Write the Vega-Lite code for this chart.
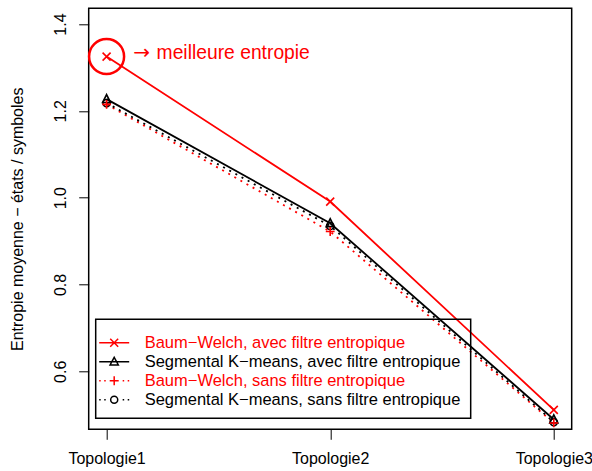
{
  "$schema": "https://vega.github.io/schema/vega-lite/v6.json",
  "width": 483,
  "height": 421,
  "autosize": {"type": "none"},
  "padding": {"left": 88.7, "top": 8.3, "right": 20.5, "bottom": 41.7},
  "config": {
    "view": {"stroke": "black", "strokeWidth": 1.5},
    "font": "Liberation Sans"
  },
  "datasets": {
    "series": [
      {"series": "Baum−Welch, avec filtre entropique", "topologie": "Topologie1", "entropie": 1.325},
      {"series": "Baum−Welch, avec filtre entropique", "topologie": "Topologie2", "entropie": 0.991},
      {"series": "Baum−Welch, avec filtre entropique", "topologie": "Topologie3", "entropie": 0.511},
      {"series": "Segmental K−means, avec filtre entropique", "topologie": "Topologie1", "entropie": 1.227},
      {"series": "Segmental K−means, avec filtre entropique", "topologie": "Topologie2", "entropie": 0.941},
      {"series": "Segmental K−means, avec filtre entropique", "topologie": "Topologie3", "entropie": 0.489},
      {"series": "Baum−Welch, sans filtre entropique", "topologie": "Topologie1", "entropie": 1.215},
      {"series": "Baum−Welch, sans filtre entropique", "topologie": "Topologie2", "entropie": 0.922},
      {"series": "Baum−Welch, sans filtre entropique", "topologie": "Topologie3", "entropie": 0.481},
      {"series": "Segmental K−means, sans filtre entropique", "topologie": "Topologie1", "entropie": 1.218},
      {"series": "Segmental K−means, sans filtre entropique", "topologie": "Topologie2", "entropie": 0.935},
      {"series": "Segmental K−means, sans filtre entropique", "topologie": "Topologie3", "entropie": 0.483}
    ],
    "annot": [
      {"topologie": "Topologie1", "entropie": 1.325, "arrow": "→", "label": "meilleure entropie"}
    ]
  },
  "encoding": {
    "x": {
      "field": "topologie", "type": "nominal",
      "scale": {"type": "point", "padding": 0.08},
      "axis": {
        "title": null, "labelAngle": 0, "domain": false, "grid": false,
        "tickSize": 10, "tickColor": "black", "tickWidth": 1,
        "labelFont": "Liberation Sans", "labelFontSize": 16, "labelColor": "black",
        "labelPadding": 11, "labelBaseline": "top"
      }
    },
    "y": {
      "field": "entropie", "type": "quantitative",
      "scale": {"domain": [0.4664, 1.4362], "nice": false, "zero": false},
      "axis": {
        "title": "Entropie moyenne − états / symboles",
        "values": [0.6, 0.8, 1.0, 1.2, 1.4], "format": ".1f",
        "domain": false, "grid": false,
        "tickSize": 10, "tickColor": "black", "tickWidth": 1,
        "labelAngle": -90, "labelAlign": "center", "labelBaseline": "bottom",
        "labelFont": "Liberation Sans", "labelFontSize": 16, "labelColor": "black",
        "labelPadding": 10,
        "titleFont": "Liberation Sans", "titleFontSize": 16, "titleFontWeight": "normal",
        "titleColor": "black", "titlePadding": 27
      }
    }
  },
  "layer": [
    {
      "data": {"name": "series"},
      "transform": [{"filter": "indexof(datum.series, 'avec') >= 0"}],
      "mark": {"type": "line", "strokeWidth": 1.8},
      "encoding": {
        "color": {
          "field": "series", "type": "nominal",
          "scale": {
            "domain": ["Baum−Welch, avec filtre entropique", "Segmental K−means, avec filtre entropique", "Baum−Welch, sans filtre entropique", "Segmental K−means, sans filtre entropique"],
            "range": ["#ff0000", "#000000", "#ff0000", "#000000"]
          },
          "legend": {
            "orient": "none", "legendX": 7, "legendY": 311, "title": " ",
            "titleFontSize": 1, "titlePadding": 4,
            "strokeColor": "black", "padding": 10,
            "symbolSize": 225, "symbolStrokeWidth": 1.5,
            "labelFont": "Liberation Sans", "labelFontSize": 16.5, "labelOffset": 22,
            "labelLimit": 500, "rowPadding": 2,
            "encode": {
              "legend": {"update": {"strokeWidth": {"value": 1.5}}},
              "symbols": {"update": {
                "shape": {"signal": "indexof(datum.value,'Baum')>=0 ? (indexof(datum.value,'avec')>=0 ? 'M-2,0L2,0M-0.53,-0.53L0.53,0.53M-0.53,0.53L0.53,-0.53' : 'M-2,0L-1.8,0M-1.33,0L-1.13,0M1.13,0L1.33,0M1.8,0L2,0M-0.6,0L0.6,0M0,-0.6L0,0.6') : (indexof(datum.value,'avec')>=0 ? 'M-2,0L2,0M0,-0.6L0.55,0.42L-0.55,0.42Z' : 'M-2,0L-1.8,0M-1.33,0L-1.13,0M1.13,0L1.33,0M1.8,0L2,0M0.47,0A0.47,0.47 0 1,1 -0.47,0A0.47,0.47 0 1,1 0.47,0Z')"},
                "size": {"value": 225},
                "stroke": {"signal": "indexof(datum.value,'Baum')>=0 ? '#ff0000' : '#000000'"},
                "fill": {"value": "transparent"},
                "strokeDash": {"value": []},
                "strokeWidth": {"value": 1.5},
                "opacity": {"value": 1}
              }},
              "labels": {"update": {
                "fill": {"signal": "indexof(datum.value,'Baum')>=0 ? '#ff0000' : '#000000'"}
              }}
            }
          }
        }
      }
    },
    {
      "data": {"name": "series"},
      "transform": [{"filter": "indexof(datum.series, 'sans') >= 0"}],
      "mark": {"type": "line", "strokeWidth": 1.8, "strokeDash": [2, 5]},
      "encoding": {
        "color": {"field": "series", "type": "nominal"}
      }
    },
    {
      "data": {"name": "series"},
      "transform": [{"filter": "datum.series === 'Baum−Welch, avec filtre entropique'"}],
      "mark": {"type": "point", "filled": false, "strokeWidth": 1.6, "size": 64, "opacity": 1, "stroke": "#ff0000", "shape": "M-1,-1L1,1M-1,1L1,-1"}
    },
    {
      "data": {"name": "series"},
      "transform": [{"filter": "datum.series === 'Segmental K−means, avec filtre entropique'"}],
      "mark": {"type": "point", "filled": false, "strokeWidth": 1.6, "size": 64, "opacity": 1, "stroke": "#000000", "shape": "M0,-1.15L1,0.85L-1,0.85Z"}
    },
    {
      "data": {"name": "series"},
      "transform": [{"filter": "datum.series === 'Segmental K−means, sans filtre entropique'"}],
      "mark": {"type": "point", "filled": false, "strokeWidth": 1.6, "size": 64, "opacity": 1, "stroke": "#000000", "shape": "M0.9,0A0.9,0.9 0 1,1 -0.9,0A0.9,0.9 0 1,1 0.9,0Z"}
    },
    {
      "data": {"name": "series"},
      "transform": [{"filter": "datum.series === 'Baum−Welch, sans filtre entropique'"}],
      "mark": {"type": "point", "filled": false, "strokeWidth": 1.6, "size": 64, "opacity": 1, "stroke": "#ff0000", "shape": "M-1.1,0L1.1,0M0,-1.1L0,1.1"}
    },
    {
      "data": {"name": "annot"},
      "mark": {"type": "point", "shape": "circle", "filled": false, "size": 1225, "stroke": "#ff0000", "strokeWidth": 2.5, "opacity": 1}
    },
    {
      "data": {"name": "annot"},
      "mark": {"type": "text", "align": "left", "baseline": "middle", "dx": 26.6, "dy": -4, "fontSize": 20, "font": "DejaVu Sans", "color": "#ff0000"},
      "encoding": {"text": {"field": "arrow"}}
    },
    {
      "data": {"name": "annot"},
      "mark": {"type": "text", "align": "left", "baseline": "middle", "dx": 50, "dy": -4, "fontSize": 19.3, "font": "Liberation Sans", "color": "#ff0000"},
      "encoding": {"text": {"field": "label"}}
    }
  ]
}
